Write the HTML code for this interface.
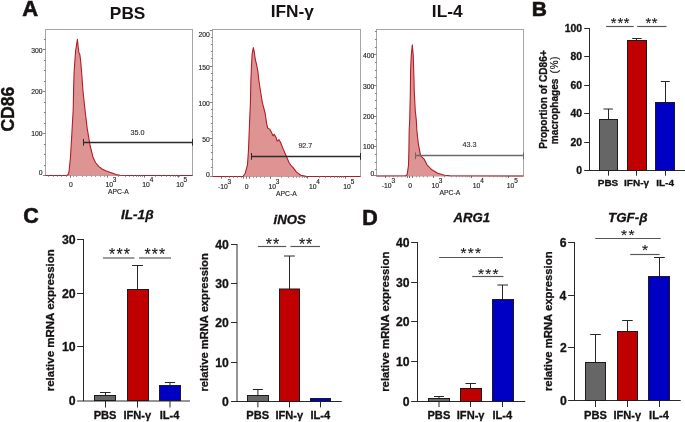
<!DOCTYPE html>
<html><head><meta charset="utf-8"><style>
html,body{margin:0;padding:0;background:#fff;overflow:hidden;}
svg{display:block;will-change:transform;filter:blur(0.4px);}
text{font-family:"Liberation Sans",sans-serif;}
</style></head><body>
<svg width="685" height="422" viewBox="0 0 685 422">
<rect width="685" height="422" fill="#fff"/>
<text x="22.25" y="15.60" font-size="22" font-weight="bold" font-style="normal" fill="#161212" stroke="#161212" stroke-width="0.6" >A</text>
<text transform="translate(13.90,131.60) rotate(-90)" x="0" y="0" font-size="17.6" font-weight="bold" font-style="normal" fill="#161212" stroke="#161212" stroke-width="0.35">CD86</text>
<rect x="45.5" y="29.5" width="147.0" height="146.0" fill="none" stroke="#a6a6a6" stroke-width="1"/>
<polygon points="45.5,175.5 66.5,175.5 67.9,174.8 69.0,172.0 70.5,157.0 71.5,140.0 72.5,122.0 73.2,110.0 73.6,90.0 74.1,72.0 75.6,51.0 77.4,39.3 78.1,46.2 78.9,52.7 79.8,54.3 80.6,60.4 81.6,72.0 82.9,90.0 85.0,110.0 87.2,128.4 90.1,145.5 92.9,156.9 95.5,162.5 98.6,166.4 102.0,169.0 106.2,171.1 111.9,173.0 116.0,174.6 120.0,175.3 126.0,175.5 192.5,175.5" fill="#df9494" stroke="none"/>
<polyline points="45.5,175.5 66.5,175.5 67.9,174.8 69.0,172.0 70.5,157.0 71.5,140.0 72.5,122.0 73.2,110.0 73.6,90.0 74.1,72.0 75.6,51.0 77.4,39.3 78.1,46.2 78.9,52.7 79.8,54.3 80.6,60.4 81.6,72.0 82.9,90.0 85.0,110.0 87.2,128.4 90.1,145.5 92.9,156.9 95.5,162.5 98.6,166.4 102.0,169.0 106.2,171.1 111.9,173.0 116.0,174.6 120.0,175.3 126.0,175.5 192.5,175.5" fill="none" stroke="#b11c28" stroke-width="1.1" stroke-linejoin="round"/>
<line x1="42.9" y1="175.5" x2="45.5" y2="175.5" stroke="#666" stroke-width="0.8"/>
<line x1="43.9" y1="165.5" x2="45.5" y2="165.5" stroke="#666" stroke-width="0.8"/>
<line x1="43.9" y1="154.5" x2="45.5" y2="154.5" stroke="#666" stroke-width="0.8"/>
<line x1="43.9" y1="144.5" x2="45.5" y2="144.5" stroke="#666" stroke-width="0.8"/>
<line x1="42.9" y1="133.5" x2="45.5" y2="133.5" stroke="#666" stroke-width="0.8"/>
<line x1="43.9" y1="123.5" x2="45.5" y2="123.5" stroke="#666" stroke-width="0.8"/>
<line x1="43.9" y1="112.5" x2="45.5" y2="112.5" stroke="#666" stroke-width="0.8"/>
<line x1="43.9" y1="102.5" x2="45.5" y2="102.5" stroke="#666" stroke-width="0.8"/>
<line x1="42.9" y1="91.5" x2="45.5" y2="91.5" stroke="#666" stroke-width="0.8"/>
<line x1="43.9" y1="81.5" x2="45.5" y2="81.5" stroke="#666" stroke-width="0.8"/>
<line x1="43.9" y1="70.5" x2="45.5" y2="70.5" stroke="#666" stroke-width="0.8"/>
<line x1="43.9" y1="60.5" x2="45.5" y2="60.5" stroke="#666" stroke-width="0.8"/>
<line x1="42.9" y1="49.5" x2="45.5" y2="49.5" stroke="#666" stroke-width="0.8"/>
<line x1="43.9" y1="39.5" x2="45.5" y2="39.5" stroke="#666" stroke-width="0.8"/>
<text x="31.32" y="53.03" font-size="6.8" font-weight="normal" font-style="normal" fill="#262626" stroke="#262626" stroke-width="0.15" >300</text>
<text x="31.32" y="94.23" font-size="6.8" font-weight="normal" font-style="normal" fill="#262626" stroke="#262626" stroke-width="0.15" >200</text>
<text x="31.32" y="136.43" font-size="6.8" font-weight="normal" font-style="normal" fill="#262626" stroke="#262626" stroke-width="0.15" >100</text>
<text x="38.86" y="174.83" font-size="6.8" font-weight="normal" font-style="normal" fill="#262626" stroke="#262626" stroke-width="0.15" >0</text>
<text x="69.03" y="186.80" font-size="6.8" font-weight="normal" font-style="normal" fill="#262626" stroke="#262626" stroke-width="0.15" >0</text>
<text x="105.39" y="186.80" font-size="6.8" font-weight="normal" font-style="normal" fill="#262626" stroke="#262626" stroke-width="0.15" >10</text>
<text x="112.74" y="181.80" font-size="6.46" font-weight="normal" font-style="normal" fill="#262626" stroke="#262626" stroke-width="0.15" >3</text>
<text x="142.29" y="186.80" font-size="6.8" font-weight="normal" font-style="normal" fill="#262626" stroke="#262626" stroke-width="0.15" >10</text>
<text x="149.77" y="181.80" font-size="6.46" font-weight="normal" font-style="normal" fill="#262626" stroke="#262626" stroke-width="0.15" >4</text>
<text x="176.19" y="186.80" font-size="6.8" font-weight="normal" font-style="normal" fill="#262626" stroke="#262626" stroke-width="0.15" >10</text>
<text x="183.54" y="181.80" font-size="6.46" font-weight="normal" font-style="normal" fill="#262626" stroke="#262626" stroke-width="0.15" >5</text>
<text x="108.00" y="193.60" font-size="6.8" font-weight="normal" font-style="normal" fill="#262626" stroke="#262626" stroke-width="0.15" >APC-A</text>
<line x1="83" y1="142.5" x2="192.5" y2="142.5" stroke="#2b2b2b" stroke-width="1.3"/>
<line x1="83.5" y1="138.9" x2="83.5" y2="145.70000000000002" stroke="#2b2b2b" stroke-width="1"/>
<line x1="192.5" y1="138.9" x2="192.5" y2="145.70000000000002" stroke="#2b2b2b" stroke-width="1"/>
<text x="130.61" y="134.60" font-size="7.2" font-weight="normal" font-style="normal" fill="#333" stroke="#333" stroke-width="0.15" >35.0</text>
<text x="109.86" y="19.40" font-size="17.3" font-weight="bold" font-style="normal" fill="#161212" >PBS</text>
<rect x="212.5" y="29.5" width="148.0" height="147.0" fill="none" stroke="#a6a6a6" stroke-width="1"/>
<polygon points="212.5,176.5 242.5,176.5 243.2,176.2 245.3,173.2 247.5,164.6 248.5,149.7 249.6,122.0 250.4,103.7 250.9,80.0 251.4,68.4 252.1,54.2 253.3,47.6 254.2,51.4 255.2,59.0 256.6,64.6 258.0,72.2 258.8,80.0 260.3,90.0 262.4,102.8 265.2,113.5 266.7,124.1 267.7,128.0 269.9,129.4 271.6,132.6 273.0,135.8 274.1,134.3 275.8,136.9 277.3,141.2 279.0,139.7 280.5,142.2 282.6,147.6 285.8,155.0 289.0,162.5 291.2,165.7 293.3,167.8 296.5,172.1 300.8,175.3 306.1,176.4 310.0,176.5 360.5,176.5" fill="#df9494" stroke="none"/>
<polyline points="212.5,176.5 242.5,176.5 243.2,176.2 245.3,173.2 247.5,164.6 248.5,149.7 249.6,122.0 250.4,103.7 250.9,80.0 251.4,68.4 252.1,54.2 253.3,47.6 254.2,51.4 255.2,59.0 256.6,64.6 258.0,72.2 258.8,80.0 260.3,90.0 262.4,102.8 265.2,113.5 266.7,124.1 267.7,128.0 269.9,129.4 271.6,132.6 273.0,135.8 274.1,134.3 275.8,136.9 277.3,141.2 279.0,139.7 280.5,142.2 282.6,147.6 285.8,155.0 289.0,162.5 291.2,165.7 293.3,167.8 296.5,172.1 300.8,175.3 306.1,176.4 310.0,176.5 360.5,176.5" fill="none" stroke="#b11c28" stroke-width="1.1" stroke-linejoin="round"/>
<line x1="210.9" y1="167.5" x2="212.5" y2="167.5" stroke="#666" stroke-width="0.8"/>
<line x1="210.9" y1="159.5" x2="212.5" y2="159.5" stroke="#666" stroke-width="0.8"/>
<line x1="210.9" y1="152.5" x2="212.5" y2="152.5" stroke="#666" stroke-width="0.8"/>
<line x1="210.9" y1="145.5" x2="212.5" y2="145.5" stroke="#666" stroke-width="0.8"/>
<line x1="209.9" y1="138.5" x2="212.5" y2="138.5" stroke="#666" stroke-width="0.8"/>
<line x1="210.9" y1="131.5" x2="212.5" y2="131.5" stroke="#666" stroke-width="0.8"/>
<line x1="210.9" y1="123.5" x2="212.5" y2="123.5" stroke="#666" stroke-width="0.8"/>
<line x1="210.9" y1="116.5" x2="212.5" y2="116.5" stroke="#666" stroke-width="0.8"/>
<line x1="210.9" y1="109.5" x2="212.5" y2="109.5" stroke="#666" stroke-width="0.8"/>
<line x1="209.9" y1="102.5" x2="212.5" y2="102.5" stroke="#666" stroke-width="0.8"/>
<line x1="210.9" y1="94.5" x2="212.5" y2="94.5" stroke="#666" stroke-width="0.8"/>
<line x1="210.9" y1="87.5" x2="212.5" y2="87.5" stroke="#666" stroke-width="0.8"/>
<line x1="210.9" y1="80.5" x2="212.5" y2="80.5" stroke="#666" stroke-width="0.8"/>
<line x1="210.9" y1="73.5" x2="212.5" y2="73.5" stroke="#666" stroke-width="0.8"/>
<line x1="209.9" y1="66.5" x2="212.5" y2="66.5" stroke="#666" stroke-width="0.8"/>
<line x1="210.9" y1="58.5" x2="212.5" y2="58.5" stroke="#666" stroke-width="0.8"/>
<line x1="210.9" y1="51.5" x2="212.5" y2="51.5" stroke="#666" stroke-width="0.8"/>
<line x1="210.9" y1="44.5" x2="212.5" y2="44.5" stroke="#666" stroke-width="0.8"/>
<line x1="210.9" y1="37.5" x2="212.5" y2="37.5" stroke="#666" stroke-width="0.8"/>
<line x1="209.9" y1="30.5" x2="212.5" y2="30.5" stroke="#666" stroke-width="0.8"/>
<line x1="209.9" y1="176.5" x2="212.5" y2="176.5" stroke="#666" stroke-width="0.8"/>
<text x="198.42" y="36.63" font-size="6.8" font-weight="normal" font-style="normal" fill="#262626" stroke="#262626" stroke-width="0.15" >200</text>
<text x="198.42" y="70.23" font-size="6.8" font-weight="normal" font-style="normal" fill="#262626" stroke="#262626" stroke-width="0.15" >150</text>
<text x="198.42" y="106.23" font-size="6.8" font-weight="normal" font-style="normal" fill="#262626" stroke="#262626" stroke-width="0.15" >100</text>
<text x="202.19" y="142.33" font-size="6.8" font-weight="normal" font-style="normal" fill="#262626" stroke="#262626" stroke-width="0.15" >50</text>
<text x="205.96" y="176.83" font-size="6.8" font-weight="normal" font-style="normal" fill="#262626" stroke="#262626" stroke-width="0.15" >0</text>
<text x="217.89" y="188.90" font-size="6.8" font-weight="normal" font-style="normal" fill="#262626" stroke="#262626" stroke-width="0.15" >-10</text>
<text x="227.52" y="183.90" font-size="6.46" font-weight="normal" font-style="normal" fill="#262626" stroke="#262626" stroke-width="0.15" >3</text>
<text x="244.63" y="188.90" font-size="6.8" font-weight="normal" font-style="normal" fill="#262626" stroke="#262626" stroke-width="0.15" >0</text>
<text x="268.49" y="188.90" font-size="6.8" font-weight="normal" font-style="normal" fill="#262626" stroke="#262626" stroke-width="0.15" >10</text>
<text x="275.84" y="183.90" font-size="6.46" font-weight="normal" font-style="normal" fill="#262626" stroke="#262626" stroke-width="0.15" >3</text>
<text x="308.89" y="188.90" font-size="6.8" font-weight="normal" font-style="normal" fill="#262626" stroke="#262626" stroke-width="0.15" >10</text>
<text x="316.37" y="183.90" font-size="6.46" font-weight="normal" font-style="normal" fill="#262626" stroke="#262626" stroke-width="0.15" >4</text>
<text x="343.29" y="188.90" font-size="6.8" font-weight="normal" font-style="normal" fill="#262626" stroke="#262626" stroke-width="0.15" >10</text>
<text x="350.64" y="183.90" font-size="6.46" font-weight="normal" font-style="normal" fill="#262626" stroke="#262626" stroke-width="0.15" >5</text>
<text x="276.00" y="195.90" font-size="6.8" font-weight="normal" font-style="normal" fill="#262626" stroke="#262626" stroke-width="0.15" >APC-A</text>
<line x1="251.5" y1="156.5" x2="360.5" y2="156.5" stroke="#2b2b2b" stroke-width="1.3"/>
<line x1="251.5" y1="153.0" x2="251.5" y2="159.8" stroke="#2b2b2b" stroke-width="1"/>
<line x1="360.5" y1="153.0" x2="360.5" y2="159.8" stroke="#2b2b2b" stroke-width="1"/>
<text x="298.38" y="147.80" font-size="7.2" font-weight="normal" font-style="normal" fill="#333" stroke="#333" stroke-width="0.15" >92.7</text>
<text x="270.66" y="16.90" font-size="17.3" font-weight="bold" font-style="normal" fill="#161212" >IFN-γ</text>
<rect x="376.5" y="29.5" width="147.0" height="146.5" fill="none" stroke="#a6a6a6" stroke-width="1"/>
<polygon points="376.5,176.0 405.5,175.8 407.1,174.7 408.5,165.5 408.9,150.0 409.2,130.0 409.7,120.0 410.4,90.0 410.6,70.0 411.3,55.0 412.3,44.9 413.2,55.0 414.0,80.0 414.2,90.0 415.2,110.0 416.3,120.0 416.8,130.0 418.4,144.2 420.6,155.6 424.1,159.1 427.0,164.8 431.9,169.8 437.6,173.3 444.7,175.3 450.0,175.8 523.5,176.0" fill="#df9494" stroke="none"/>
<polyline points="376.5,176.0 405.5,175.8 407.1,174.7 408.5,165.5 408.9,150.0 409.2,130.0 409.7,120.0 410.4,90.0 410.6,70.0 411.3,55.0 412.3,44.9 413.2,55.0 414.0,80.0 414.2,90.0 415.2,110.0 416.3,120.0 416.8,130.0 418.4,144.2 420.6,155.6 424.1,159.1 427.0,164.8 431.9,169.8 437.6,173.3 444.7,175.3 450.0,175.8 523.5,176.0" fill="none" stroke="#b11c28" stroke-width="1.1" stroke-linejoin="round"/>
<line x1="374.9" y1="169.5" x2="376.5" y2="169.5" stroke="#666" stroke-width="0.8"/>
<line x1="374.9" y1="162.5" x2="376.5" y2="162.5" stroke="#666" stroke-width="0.8"/>
<line x1="374.9" y1="154.5" x2="376.5" y2="154.5" stroke="#666" stroke-width="0.8"/>
<line x1="373.9" y1="146.5" x2="376.5" y2="146.5" stroke="#666" stroke-width="0.8"/>
<line x1="374.9" y1="139.5" x2="376.5" y2="139.5" stroke="#666" stroke-width="0.8"/>
<line x1="374.9" y1="131.5" x2="376.5" y2="131.5" stroke="#666" stroke-width="0.8"/>
<line x1="374.9" y1="123.5" x2="376.5" y2="123.5" stroke="#666" stroke-width="0.8"/>
<line x1="373.9" y1="116.5" x2="376.5" y2="116.5" stroke="#666" stroke-width="0.8"/>
<line x1="374.9" y1="108.5" x2="376.5" y2="108.5" stroke="#666" stroke-width="0.8"/>
<line x1="374.9" y1="100.5" x2="376.5" y2="100.5" stroke="#666" stroke-width="0.8"/>
<line x1="374.9" y1="93.5" x2="376.5" y2="93.5" stroke="#666" stroke-width="0.8"/>
<line x1="373.9" y1="85.5" x2="376.5" y2="85.5" stroke="#666" stroke-width="0.8"/>
<line x1="374.9" y1="77.5" x2="376.5" y2="77.5" stroke="#666" stroke-width="0.8"/>
<line x1="374.9" y1="70.5" x2="376.5" y2="70.5" stroke="#666" stroke-width="0.8"/>
<line x1="374.9" y1="62.5" x2="376.5" y2="62.5" stroke="#666" stroke-width="0.8"/>
<line x1="373.9" y1="54.5" x2="376.5" y2="54.5" stroke="#666" stroke-width="0.8"/>
<line x1="374.9" y1="47.5" x2="376.5" y2="47.5" stroke="#666" stroke-width="0.8"/>
<line x1="374.9" y1="39.5" x2="376.5" y2="39.5" stroke="#666" stroke-width="0.8"/>
<line x1="374.9" y1="31.5" x2="376.5" y2="31.5" stroke="#666" stroke-width="0.8"/>
<line x1="373.9" y1="175.5" x2="376.5" y2="175.5" stroke="#666" stroke-width="0.8"/>
<text x="362.92" y="58.43" font-size="6.8" font-weight="normal" font-style="normal" fill="#262626" stroke="#262626" stroke-width="0.15" >400</text>
<text x="362.92" y="88.83" font-size="6.8" font-weight="normal" font-style="normal" fill="#262626" stroke="#262626" stroke-width="0.15" >300</text>
<text x="362.92" y="119.13" font-size="6.8" font-weight="normal" font-style="normal" fill="#262626" stroke="#262626" stroke-width="0.15" >200</text>
<text x="362.92" y="148.73" font-size="6.8" font-weight="normal" font-style="normal" fill="#262626" stroke="#262626" stroke-width="0.15" >100</text>
<text x="370.46" y="175.73" font-size="6.8" font-weight="normal" font-style="normal" fill="#262626" stroke="#262626" stroke-width="0.15" >0</text>
<text x="381.79" y="187.90" font-size="6.8" font-weight="normal" font-style="normal" fill="#262626" stroke="#262626" stroke-width="0.15" >-10</text>
<text x="391.42" y="182.90" font-size="6.46" font-weight="normal" font-style="normal" fill="#262626" stroke="#262626" stroke-width="0.15" >3</text>
<text x="408.23" y="187.90" font-size="6.8" font-weight="normal" font-style="normal" fill="#262626" stroke="#262626" stroke-width="0.15" >0</text>
<text x="431.49" y="187.90" font-size="6.8" font-weight="normal" font-style="normal" fill="#262626" stroke="#262626" stroke-width="0.15" >10</text>
<text x="438.84" y="182.90" font-size="6.46" font-weight="normal" font-style="normal" fill="#262626" stroke="#262626" stroke-width="0.15" >3</text>
<text x="472.69" y="187.90" font-size="6.8" font-weight="normal" font-style="normal" fill="#262626" stroke="#262626" stroke-width="0.15" >10</text>
<text x="480.17" y="182.90" font-size="6.46" font-weight="normal" font-style="normal" fill="#262626" stroke="#262626" stroke-width="0.15" >4</text>
<text x="506.79" y="187.90" font-size="6.8" font-weight="normal" font-style="normal" fill="#262626" stroke="#262626" stroke-width="0.15" >10</text>
<text x="514.14" y="182.90" font-size="6.46" font-weight="normal" font-style="normal" fill="#262626" stroke="#262626" stroke-width="0.15" >5</text>
<text x="439.50" y="195.40" font-size="6.8" font-weight="normal" font-style="normal" fill="#262626" stroke="#262626" stroke-width="0.15" >APC-A</text>
<line x1="415.6" y1="155.5" x2="523.5" y2="155.5" stroke="#6a6a6a" stroke-width="1.5"/>
<line x1="415.5" y1="152.4" x2="415.5" y2="159.20000000000002" stroke="#6a6a6a" stroke-width="1"/>
<line x1="523.5" y1="152.4" x2="523.5" y2="159.20000000000002" stroke="#6a6a6a" stroke-width="1"/>
<text x="462.56" y="147.00" font-size="7.2" font-weight="normal" font-style="normal" fill="#333" stroke="#333" stroke-width="0.15" >43.3</text>
<text x="431.83" y="16.80" font-size="17.3" font-weight="bold" font-style="normal" fill="#161212" >IL-4</text>
<line x1="48.5" y1="175.5" x2="48.5" y2="177.0" stroke="#888" stroke-width="0.8"/>
<line x1="53.5" y1="175.5" x2="53.5" y2="177.0" stroke="#888" stroke-width="0.8"/>
<line x1="57.5" y1="175.5" x2="57.5" y2="177.0" stroke="#888" stroke-width="0.8"/>
<line x1="61.5" y1="175.5" x2="61.5" y2="177.0" stroke="#888" stroke-width="0.8"/>
<line x1="66.5" y1="175.5" x2="66.5" y2="177.0" stroke="#888" stroke-width="0.8"/>
<line x1="70.5" y1="175.5" x2="70.5" y2="177.7" stroke="#555" stroke-width="0.8"/>
<line x1="73.5" y1="175.5" x2="73.5" y2="177.0" stroke="#888" stroke-width="0.8"/>
<line x1="76.5" y1="175.5" x2="76.5" y2="177.0" stroke="#888" stroke-width="0.8"/>
<line x1="82.5" y1="175.5" x2="82.5" y2="177.0" stroke="#888" stroke-width="0.8"/>
<line x1="86.5" y1="175.5" x2="86.5" y2="177.0" stroke="#888" stroke-width="0.8"/>
<line x1="91.5" y1="175.5" x2="91.5" y2="177.0" stroke="#888" stroke-width="0.8"/>
<line x1="95.5" y1="175.5" x2="95.5" y2="177.0" stroke="#888" stroke-width="0.8"/>
<line x1="100.5" y1="175.5" x2="100.5" y2="177.0" stroke="#888" stroke-width="0.8"/>
<line x1="104.5" y1="175.5" x2="104.5" y2="177.0" stroke="#888" stroke-width="0.8"/>
<line x1="118.5" y1="175.5" x2="118.5" y2="177.0" stroke="#888" stroke-width="0.8"/>
<line x1="125.5" y1="175.5" x2="125.5" y2="177.0" stroke="#888" stroke-width="0.8"/>
<line x1="129.5" y1="175.5" x2="129.5" y2="177.0" stroke="#888" stroke-width="0.8"/>
<line x1="133.5" y1="175.5" x2="133.5" y2="177.0" stroke="#888" stroke-width="0.8"/>
<line x1="136.5" y1="175.5" x2="136.5" y2="177.0" stroke="#888" stroke-width="0.8"/>
<line x1="138.5" y1="175.5" x2="138.5" y2="177.0" stroke="#888" stroke-width="0.8"/>
<line x1="140.5" y1="175.5" x2="140.5" y2="177.0" stroke="#888" stroke-width="0.8"/>
<line x1="142.5" y1="175.5" x2="142.5" y2="177.0" stroke="#888" stroke-width="0.8"/>
<line x1="107.5" y1="175.5" x2="107.5" y2="177.7" stroke="#555" stroke-width="0.8"/>
<line x1="155.5" y1="175.5" x2="155.5" y2="177.0" stroke="#888" stroke-width="0.8"/>
<line x1="161.5" y1="175.5" x2="161.5" y2="177.0" stroke="#888" stroke-width="0.8"/>
<line x1="166.5" y1="175.5" x2="166.5" y2="177.0" stroke="#888" stroke-width="0.8"/>
<line x1="170.5" y1="175.5" x2="170.5" y2="177.0" stroke="#888" stroke-width="0.8"/>
<line x1="173.5" y1="175.5" x2="173.5" y2="177.0" stroke="#888" stroke-width="0.8"/>
<line x1="175.5" y1="175.5" x2="175.5" y2="177.0" stroke="#888" stroke-width="0.8"/>
<line x1="177.5" y1="175.5" x2="177.5" y2="177.0" stroke="#888" stroke-width="0.8"/>
<line x1="179.5" y1="175.5" x2="179.5" y2="177.0" stroke="#888" stroke-width="0.8"/>
<line x1="144.5" y1="175.5" x2="144.5" y2="177.7" stroke="#555" stroke-width="0.8"/>
<line x1="178.5" y1="175.5" x2="178.5" y2="177.7" stroke="#555" stroke-width="0.8"/>
<line x1="221.5" y1="176.5" x2="221.5" y2="178.7" stroke="#555" stroke-width="0.8"/>
<line x1="225.5" y1="176.5" x2="225.5" y2="178.0" stroke="#888" stroke-width="0.8"/>
<line x1="229.5" y1="176.5" x2="229.5" y2="178.0" stroke="#888" stroke-width="0.8"/>
<line x1="233.5" y1="176.5" x2="233.5" y2="178.0" stroke="#888" stroke-width="0.8"/>
<line x1="237.5" y1="176.5" x2="237.5" y2="178.0" stroke="#888" stroke-width="0.8"/>
<line x1="241.5" y1="176.5" x2="241.5" y2="178.0" stroke="#888" stroke-width="0.8"/>
<line x1="243.5" y1="176.5" x2="243.5" y2="178.7" stroke="#555" stroke-width="0.8"/>
<line x1="246.5" y1="176.5" x2="246.5" y2="178.7" stroke="#555" stroke-width="0.8"/>
<line x1="249.5" y1="176.5" x2="249.5" y2="178.7" stroke="#555" stroke-width="0.8"/>
<line x1="253.5" y1="176.5" x2="253.5" y2="178.0" stroke="#888" stroke-width="0.8"/>
<line x1="256.5" y1="176.5" x2="256.5" y2="178.0" stroke="#888" stroke-width="0.8"/>
<line x1="260.5" y1="176.5" x2="260.5" y2="178.0" stroke="#888" stroke-width="0.8"/>
<line x1="264.5" y1="176.5" x2="264.5" y2="178.0" stroke="#888" stroke-width="0.8"/>
<line x1="281.5" y1="176.5" x2="281.5" y2="178.0" stroke="#888" stroke-width="0.8"/>
<line x1="288.5" y1="176.5" x2="288.5" y2="178.0" stroke="#888" stroke-width="0.8"/>
<line x1="293.5" y1="176.5" x2="293.5" y2="178.0" stroke="#888" stroke-width="0.8"/>
<line x1="296.5" y1="176.5" x2="296.5" y2="178.0" stroke="#888" stroke-width="0.8"/>
<line x1="299.5" y1="176.5" x2="299.5" y2="178.0" stroke="#888" stroke-width="0.8"/>
<line x1="302.5" y1="176.5" x2="302.5" y2="178.0" stroke="#888" stroke-width="0.8"/>
<line x1="304.5" y1="176.5" x2="304.5" y2="178.0" stroke="#888" stroke-width="0.8"/>
<line x1="306.5" y1="176.5" x2="306.5" y2="178.0" stroke="#888" stroke-width="0.8"/>
<line x1="270.5" y1="176.5" x2="270.5" y2="178.7" stroke="#555" stroke-width="0.8"/>
<line x1="319.5" y1="176.5" x2="319.5" y2="178.0" stroke="#888" stroke-width="0.8"/>
<line x1="325.5" y1="176.5" x2="325.5" y2="178.0" stroke="#888" stroke-width="0.8"/>
<line x1="330.5" y1="176.5" x2="330.5" y2="178.0" stroke="#888" stroke-width="0.8"/>
<line x1="334.5" y1="176.5" x2="334.5" y2="178.0" stroke="#888" stroke-width="0.8"/>
<line x1="337.5" y1="176.5" x2="337.5" y2="178.0" stroke="#888" stroke-width="0.8"/>
<line x1="339.5" y1="176.5" x2="339.5" y2="178.0" stroke="#888" stroke-width="0.8"/>
<line x1="341.5" y1="176.5" x2="341.5" y2="178.0" stroke="#888" stroke-width="0.8"/>
<line x1="343.5" y1="176.5" x2="343.5" y2="178.0" stroke="#888" stroke-width="0.8"/>
<line x1="307.5" y1="176.5" x2="307.5" y2="178.7" stroke="#555" stroke-width="0.8"/>
<line x1="345.5" y1="176.5" x2="345.5" y2="178.7" stroke="#555" stroke-width="0.8"/>
<line x1="385.5" y1="175.8" x2="385.5" y2="178.0" stroke="#555" stroke-width="0.8"/>
<line x1="389.5" y1="175.8" x2="389.5" y2="177.3" stroke="#888" stroke-width="0.8"/>
<line x1="393.5" y1="175.8" x2="393.5" y2="177.3" stroke="#888" stroke-width="0.8"/>
<line x1="397.5" y1="175.8" x2="397.5" y2="177.3" stroke="#888" stroke-width="0.8"/>
<line x1="401.5" y1="175.8" x2="401.5" y2="177.3" stroke="#888" stroke-width="0.8"/>
<line x1="405.5" y1="175.8" x2="405.5" y2="177.3" stroke="#888" stroke-width="0.8"/>
<line x1="407.5" y1="175.8" x2="407.5" y2="178.0" stroke="#555" stroke-width="0.8"/>
<line x1="409.5" y1="175.8" x2="409.5" y2="178.0" stroke="#555" stroke-width="0.8"/>
<line x1="412.5" y1="175.8" x2="412.5" y2="178.0" stroke="#555" stroke-width="0.8"/>
<line x1="416.5" y1="175.8" x2="416.5" y2="177.3" stroke="#888" stroke-width="0.8"/>
<line x1="419.5" y1="175.8" x2="419.5" y2="177.3" stroke="#888" stroke-width="0.8"/>
<line x1="423.5" y1="175.8" x2="423.5" y2="177.3" stroke="#888" stroke-width="0.8"/>
<line x1="427.5" y1="175.8" x2="427.5" y2="177.3" stroke="#888" stroke-width="0.8"/>
<line x1="444.5" y1="175.8" x2="444.5" y2="177.3" stroke="#888" stroke-width="0.8"/>
<line x1="451.5" y1="175.8" x2="451.5" y2="177.3" stroke="#888" stroke-width="0.8"/>
<line x1="456.5" y1="175.8" x2="456.5" y2="177.3" stroke="#888" stroke-width="0.8"/>
<line x1="459.5" y1="175.8" x2="459.5" y2="177.3" stroke="#888" stroke-width="0.8"/>
<line x1="462.5" y1="175.8" x2="462.5" y2="177.3" stroke="#888" stroke-width="0.8"/>
<line x1="465.5" y1="175.8" x2="465.5" y2="177.3" stroke="#888" stroke-width="0.8"/>
<line x1="467.5" y1="175.8" x2="467.5" y2="177.3" stroke="#888" stroke-width="0.8"/>
<line x1="469.5" y1="175.8" x2="469.5" y2="177.3" stroke="#888" stroke-width="0.8"/>
<line x1="433.5" y1="175.8" x2="433.5" y2="178.0" stroke="#555" stroke-width="0.8"/>
<line x1="482.5" y1="175.8" x2="482.5" y2="177.3" stroke="#888" stroke-width="0.8"/>
<line x1="489.5" y1="175.8" x2="489.5" y2="177.3" stroke="#888" stroke-width="0.8"/>
<line x1="493.5" y1="175.8" x2="493.5" y2="177.3" stroke="#888" stroke-width="0.8"/>
<line x1="497.5" y1="175.8" x2="497.5" y2="177.3" stroke="#888" stroke-width="0.8"/>
<line x1="500.5" y1="175.8" x2="500.5" y2="177.3" stroke="#888" stroke-width="0.8"/>
<line x1="502.5" y1="175.8" x2="502.5" y2="177.3" stroke="#888" stroke-width="0.8"/>
<line x1="505.5" y1="175.8" x2="505.5" y2="177.3" stroke="#888" stroke-width="0.8"/>
<line x1="506.5" y1="175.8" x2="506.5" y2="177.3" stroke="#888" stroke-width="0.8"/>
<line x1="471.5" y1="175.8" x2="471.5" y2="178.0" stroke="#555" stroke-width="0.8"/>
<line x1="508.5" y1="175.8" x2="508.5" y2="178.0" stroke="#555" stroke-width="0.8"/>
<text x="531.84" y="15.60" font-size="21" font-weight="bold" font-style="normal" fill="#161212" stroke="#161212" stroke-width="0.6" >B</text>
<line x1="608.5" y1="119.5" x2="608.5" y2="109.0" stroke="#262626" stroke-width="1"/>
<line x1="603.5" y1="109.0" x2="612.9" y2="109.0" stroke="#262626" stroke-width="1"/>
<line x1="636.5" y1="40.5" x2="636.5" y2="38.5" stroke="#262626" stroke-width="1"/>
<line x1="632.2" y1="38.5" x2="641.6" y2="38.5" stroke="#262626" stroke-width="1"/>
<line x1="665.5" y1="102.5" x2="665.5" y2="81.5" stroke="#262626" stroke-width="1"/>
<line x1="660.9" y1="81.5" x2="669.8" y2="81.5" stroke="#262626" stroke-width="1"/>
<line x1="584.2" y1="170.5" x2="685" y2="170.5" stroke="#2a2a2a" stroke-width="1"/>
<rect x="599.5" y="119.5" width="18.0" height="51.0" fill="#666666" stroke="#1c1c1c" stroke-width="1"/>
<line x1="608.5" y1="170.5" x2="608.5" y2="175.7" stroke="#2a2a2a" stroke-width="1"/>
<text transform="translate(597.71,186.40) scale(1.065,1)" x="0" y="0" font-size="9.4" font-weight="bold" font-style="normal" fill="#161212" stroke="#161212" stroke-width="0.3" >PBS</text>
<rect x="627.5" y="40.5" width="19.0" height="130.0" fill="#c00000" stroke="#1c1c1c" stroke-width="1"/>
<line x1="636.5" y1="170.5" x2="636.5" y2="175.7" stroke="#2a2a2a" stroke-width="1"/>
<text transform="translate(624.04,186.40) scale(1.065,1)" x="0" y="0" font-size="9.4" font-weight="bold" font-style="normal" fill="#161212" stroke="#161212" stroke-width="0.3" >IFN-γ</text>
<rect x="655.5" y="102.5" width="19.0" height="68.0" fill="#0000c4" stroke="#1c1c1c" stroke-width="1"/>
<line x1="665.5" y1="170.5" x2="665.5" y2="175.7" stroke="#2a2a2a" stroke-width="1"/>
<text transform="translate(656.21,186.40) scale(1.065,1)" x="0" y="0" font-size="9.4" font-weight="bold" font-style="normal" fill="#161212" stroke="#161212" stroke-width="0.3" >IL-4</text>
<line x1="589.5" y1="28.0" x2="589.5" y2="171.0" stroke="#2a2a2a" stroke-width="1"/>
<text transform="translate(576.34,174.12) scale(1.030,1)" x="0" y="0" font-size="10.1" font-weight="bold" font-style="normal" fill="#161212" stroke="#161212" stroke-width="0.3" >0</text>
<line x1="584.2" y1="142.5" x2="589.5" y2="142.5" stroke="#2a2a2a" stroke-width="1"/>
<text transform="translate(570.57,146.12) scale(1.030,1)" x="0" y="0" font-size="10.1" font-weight="bold" font-style="normal" fill="#161212" stroke="#161212" stroke-width="0.3" >20</text>
<line x1="584.2" y1="113.5" x2="589.5" y2="113.5" stroke="#2a2a2a" stroke-width="1"/>
<text transform="translate(570.57,117.12) scale(1.030,1)" x="0" y="0" font-size="10.1" font-weight="bold" font-style="normal" fill="#161212" stroke="#161212" stroke-width="0.3" >40</text>
<line x1="584.2" y1="85.5" x2="589.5" y2="85.5" stroke="#2a2a2a" stroke-width="1"/>
<text transform="translate(570.57,89.12) scale(1.030,1)" x="0" y="0" font-size="10.1" font-weight="bold" font-style="normal" fill="#161212" stroke="#161212" stroke-width="0.3" >60</text>
<line x1="584.2" y1="56.5" x2="589.5" y2="56.5" stroke="#2a2a2a" stroke-width="1"/>
<text transform="translate(570.57,60.12) scale(1.030,1)" x="0" y="0" font-size="10.1" font-weight="bold" font-style="normal" fill="#161212" stroke="#161212" stroke-width="0.3" >80</text>
<line x1="584.2" y1="28.5" x2="589.5" y2="28.5" stroke="#2a2a2a" stroke-width="1"/>
<text transform="translate(564.80,32.12) scale(1.030,1)" x="0" y="0" font-size="10.1" font-weight="bold" font-style="normal" fill="#161212" stroke="#161212" stroke-width="0.3" >100</text>
<line x1="606.1" y1="26.5" x2="633.7" y2="26.5" stroke="#555555" stroke-width="1.15"/>
<line x1="637.2" y1="26.5" x2="666.5" y2="26.5" stroke="#555555" stroke-width="1.15"/>
<text x="610.83" y="28.39" font-size="14.74" fill="#141414" stroke="#141414" stroke-width="0.12">*</text>
<text x="617.43" y="28.39" font-size="14.74" fill="#141414" stroke="#141414" stroke-width="0.12">*</text>
<text x="623.73" y="28.39" font-size="14.74" fill="#141414" stroke="#141414" stroke-width="0.12">*</text>
<text x="645.53" y="28.29" font-size="14.74" fill="#141414" stroke="#141414" stroke-width="0.12">*</text>
<text x="651.73" y="28.29" font-size="14.74" fill="#141414" stroke="#141414" stroke-width="0.12">*</text>
<text transform="translate(546.80,148.76) rotate(-90)" x="0" y="0" font-size="10.1" font-weight="bold" font-style="normal" fill="#161212" stroke="#161212" stroke-width="0.3">Proportion of CD86+</text>
<text transform="translate(557.60,144.16) rotate(-90)" x="0" y="0" font-size="10.1" font-weight="bold" font-style="normal" fill="#161212" stroke="#161212" stroke-width="0.3">macrophages</text>
<text transform="translate(557.90,73.52) rotate(-90)" x="0" y="0" font-size="10.4" font-weight="normal" font-style="normal" fill="#161212" stroke="#161212" stroke-width="0.15">(</text>
<text transform="translate(557.60,69.25) rotate(-90)" x="0" y="0" font-size="10.0" font-weight="normal" font-style="normal" fill="#161212" stroke="#161212" stroke-width="0.15">%</text>
<text transform="translate(557.90,59.95) rotate(-90)" x="0" y="0" font-size="10.4" font-weight="normal" font-style="normal" fill="#161212" stroke="#161212" stroke-width="0.15">)</text>
<text x="23.24" y="222.60" font-size="21.5" font-weight="bold" font-style="normal" fill="#161212" stroke="#161212" stroke-width="0.6" >C</text>
<text x="121.03" y="218.50" font-size="13.6" font-weight="bold" font-style="italic" fill="#161212" stroke="#161212" stroke-width="0.3" >IL-1β</text>
<line x1="105.5" y1="395.5" x2="105.5" y2="392.5" stroke="#262626" stroke-width="1"/>
<line x1="100.0" y1="392.5" x2="110.6" y2="392.5" stroke="#262626" stroke-width="1"/>
<line x1="137.5" y1="289.5" x2="137.5" y2="265.5" stroke="#262626" stroke-width="1"/>
<line x1="132.1" y1="265.5" x2="142.9" y2="265.5" stroke="#262626" stroke-width="1"/>
<line x1="170.0" y1="385.5" x2="170.0" y2="382.5" stroke="#262626" stroke-width="1"/>
<line x1="164.9" y1="382.5" x2="175.1" y2="382.5" stroke="#262626" stroke-width="1"/>
<line x1="77.1" y1="401.0" x2="190" y2="401.0" stroke="#2a2a2a" stroke-width="1"/>
<rect x="94.5" y="395.5" width="21.0" height="5.0" fill="#666666" stroke="#1c1c1c" stroke-width="1"/>
<line x1="105.5" y1="400.5" x2="105.5" y2="407.5" stroke="#2a2a2a" stroke-width="1"/>
<text x="93.68" y="418.60" font-size="11.1" font-weight="bold" font-style="normal" fill="#161212" stroke="#161212" stroke-width="0.3" >PBS</text>
<rect x="127.5" y="289.5" width="21.0" height="111.0" fill="#c00000" stroke="#1c1c1c" stroke-width="1"/>
<line x1="137.5" y1="400.5" x2="137.5" y2="407.5" stroke="#2a2a2a" stroke-width="1"/>
<text x="123.39" y="418.60" font-size="11.1" font-weight="bold" font-style="normal" fill="#161212" stroke="#161212" stroke-width="0.3" >IFN-γ</text>
<rect x="159.5" y="385.5" width="21.0" height="15.0" fill="#0000c4" stroke="#1c1c1c" stroke-width="1"/>
<line x1="170.0" y1="400.5" x2="170.0" y2="407.5" stroke="#2a2a2a" stroke-width="1"/>
<text x="159.77" y="418.60" font-size="11.1" font-weight="bold" font-style="normal" fill="#161212" stroke="#161212" stroke-width="0.3" >IL-4</text>
<line x1="83.5" y1="239.0" x2="83.5" y2="401.0" stroke="#2a2a2a" stroke-width="1"/>
<text x="68.87" y="405.40" font-size="12.3" font-weight="bold" font-style="normal" fill="#161212" stroke="#161212" stroke-width="0.3" >0</text>
<line x1="77.1" y1="346.5" x2="83.5" y2="346.5" stroke="#2a2a2a" stroke-width="1"/>
<text x="62.04" y="350.90" font-size="12.3" font-weight="bold" font-style="normal" fill="#161212" stroke="#161212" stroke-width="0.3" >10</text>
<line x1="77.1" y1="293.5" x2="83.5" y2="293.5" stroke="#2a2a2a" stroke-width="1"/>
<text x="62.04" y="297.90" font-size="12.3" font-weight="bold" font-style="normal" fill="#161212" stroke="#161212" stroke-width="0.3" >20</text>
<line x1="77.1" y1="239.5" x2="83.5" y2="239.5" stroke="#2a2a2a" stroke-width="1"/>
<text x="62.04" y="243.90" font-size="12.3" font-weight="bold" font-style="normal" fill="#161212" stroke="#161212" stroke-width="0.3" >30</text>
<line x1="103" y1="258.0" x2="134.5" y2="258.0" stroke="#555555" stroke-width="1.15"/>
<line x1="139" y1="258.0" x2="171" y2="258.0" stroke="#555555" stroke-width="1.15"/>
<text x="108.93" y="259.50" font-size="15.73" fill="#141414" stroke="#141414" stroke-width="0.12">*</text>
<text x="116.43" y="259.50" font-size="15.73" fill="#141414" stroke="#141414" stroke-width="0.12">*</text>
<text x="123.73" y="259.50" font-size="15.73" fill="#141414" stroke="#141414" stroke-width="0.12">*</text>
<text x="144.43" y="259.50" font-size="15.73" fill="#141414" stroke="#141414" stroke-width="0.12">*</text>
<text x="151.63" y="259.50" font-size="15.73" fill="#141414" stroke="#141414" stroke-width="0.12">*</text>
<text x="159.03" y="259.50" font-size="15.73" fill="#141414" stroke="#141414" stroke-width="0.12">*</text>
<text transform="translate(54.20,391.25) rotate(-90)" x="0" y="0" font-size="11.5" font-weight="bold" font-style="normal" fill="#161212" stroke="#161212" stroke-width="0.3">relative mRNA expression</text>
<text x="273.60" y="224.40" font-size="13.2" font-weight="bold" font-style="italic" fill="#161212" stroke="#161212" stroke-width="0.3" >iNOS</text>
<line x1="257.9" y1="395.5" x2="257.9" y2="389.5" stroke="#262626" stroke-width="1"/>
<line x1="252.9" y1="389.5" x2="262.9" y2="389.5" stroke="#262626" stroke-width="1"/>
<line x1="289.5" y1="289.0" x2="289.5" y2="256.0" stroke="#262626" stroke-width="1"/>
<line x1="284.1" y1="256.0" x2="294.8" y2="256.0" stroke="#262626" stroke-width="1"/>
<line x1="320.5" y1="398.5" x2="320.5" y2="398.5" stroke="#262626" stroke-width="1"/>
<line x1="315.3" y1="398.5" x2="325.6" y2="398.5" stroke="#262626" stroke-width="1"/>
<line x1="231.0" y1="401.5" x2="341.8" y2="401.5" stroke="#2a2a2a" stroke-width="1"/>
<rect x="247.5" y="395.5" width="21.0" height="6.0" fill="#666666" stroke="#1c1c1c" stroke-width="1"/>
<line x1="257.9" y1="401.5" x2="257.9" y2="407.4" stroke="#2a2a2a" stroke-width="1"/>
<text x="246.28" y="419.00" font-size="11.1" font-weight="bold" font-style="normal" fill="#161212" stroke="#161212" stroke-width="0.3" >PBS</text>
<rect x="279.5" y="289.0" width="20.0" height="112.5" fill="#c00000" stroke="#1c1c1c" stroke-width="1"/>
<line x1="289.5" y1="401.5" x2="289.5" y2="407.4" stroke="#2a2a2a" stroke-width="1"/>
<text x="275.39" y="419.00" font-size="11.1" font-weight="bold" font-style="normal" fill="#161212" stroke="#161212" stroke-width="0.3" >IFN-γ</text>
<rect x="310.5" y="398.5" width="20.0" height="3.0" fill="#0000c4" stroke="#1c1c1c" stroke-width="1"/>
<line x1="320.5" y1="401.5" x2="320.5" y2="407.4" stroke="#2a2a2a" stroke-width="1"/>
<text x="310.52" y="419.00" font-size="11.1" font-weight="bold" font-style="normal" fill="#161212" stroke="#161212" stroke-width="0.3" >IL-4</text>
<line x1="237.0" y1="244.0" x2="237.0" y2="402.0" stroke="#2a2a2a" stroke-width="1"/>
<text x="222.12" y="405.87" font-size="12.2" font-weight="bold" font-style="normal" fill="#161212" stroke="#161212" stroke-width="0.3" >0</text>
<line x1="231.0" y1="362.5" x2="237.0" y2="362.5" stroke="#2a2a2a" stroke-width="1"/>
<text x="215.35" y="366.87" font-size="12.2" font-weight="bold" font-style="normal" fill="#161212" stroke="#161212" stroke-width="0.3" >10</text>
<line x1="231.0" y1="322.5" x2="237.0" y2="322.5" stroke="#2a2a2a" stroke-width="1"/>
<text x="215.35" y="326.87" font-size="12.2" font-weight="bold" font-style="normal" fill="#161212" stroke="#161212" stroke-width="0.3" >20</text>
<line x1="231.0" y1="283.5" x2="237.0" y2="283.5" stroke="#2a2a2a" stroke-width="1"/>
<text x="215.35" y="287.87" font-size="12.2" font-weight="bold" font-style="normal" fill="#161212" stroke="#161212" stroke-width="0.3" >30</text>
<line x1="231.0" y1="244.5" x2="237.0" y2="244.5" stroke="#2a2a2a" stroke-width="1"/>
<text x="215.35" y="248.87" font-size="12.2" font-weight="bold" font-style="normal" fill="#161212" stroke="#161212" stroke-width="0.3" >40</text>
<line x1="258" y1="246.5" x2="286.2" y2="246.5" stroke="#555555" stroke-width="1.15"/>
<line x1="290.4" y1="246.5" x2="320" y2="246.5" stroke="#555555" stroke-width="1.15"/>
<text x="265.79" y="249.63" font-size="15.97" fill="#141414" stroke="#141414" stroke-width="0.12">*</text>
<text x="272.89" y="249.63" font-size="15.97" fill="#141414" stroke="#141414" stroke-width="0.12">*</text>
<text x="298.89" y="249.73" font-size="15.97" fill="#141414" stroke="#141414" stroke-width="0.12">*</text>
<text x="305.89" y="249.73" font-size="15.97" fill="#141414" stroke="#141414" stroke-width="0.12">*</text>
<text transform="translate(208.40,391.53) rotate(-90)" x="0" y="0" font-size="11.2" font-weight="bold" font-style="normal" fill="#161212" stroke="#161212" stroke-width="0.3">relative mRNA expression</text>
<text x="362.30" y="225.00" font-size="21.5" font-weight="bold" font-style="normal" fill="#161212" stroke="#161212" stroke-width="0.6" >D</text>
<text x="453.46" y="221.80" font-size="13.2" font-weight="bold" font-style="italic" fill="#161212" stroke="#161212" stroke-width="0.3" >ARG1</text>
<line x1="439.0" y1="398.5" x2="439.0" y2="396.5" stroke="#262626" stroke-width="1"/>
<line x1="434.0" y1="396.5" x2="443.9" y2="396.5" stroke="#262626" stroke-width="1"/>
<line x1="470.5" y1="388.5" x2="470.5" y2="383.5" stroke="#262626" stroke-width="1"/>
<line x1="465.4" y1="383.5" x2="475.9" y2="383.5" stroke="#262626" stroke-width="1"/>
<line x1="502.5" y1="299.5" x2="502.5" y2="285.0" stroke="#262626" stroke-width="1"/>
<line x1="497.4" y1="285.0" x2="508.0" y2="285.0" stroke="#262626" stroke-width="1"/>
<line x1="411.1" y1="401.5" x2="525.2" y2="401.5" stroke="#2a2a2a" stroke-width="1"/>
<rect x="428.5" y="398.5" width="21.0" height="3.0" fill="#666666" stroke="#1c1c1c" stroke-width="1"/>
<line x1="439.0" y1="401.5" x2="439.0" y2="407.0" stroke="#2a2a2a" stroke-width="1"/>
<text x="427.48" y="419.00" font-size="11.1" font-weight="bold" font-style="normal" fill="#161212" stroke="#161212" stroke-width="0.3" >PBS</text>
<rect x="460.5" y="388.5" width="21.0" height="13.0" fill="#c00000" stroke="#1c1c1c" stroke-width="1"/>
<line x1="470.5" y1="401.5" x2="470.5" y2="407.0" stroke="#2a2a2a" stroke-width="1"/>
<text x="456.79" y="419.00" font-size="11.1" font-weight="bold" font-style="normal" fill="#161212" stroke="#161212" stroke-width="0.3" >IFN-γ</text>
<rect x="492.5" y="299.5" width="21.0" height="102.0" fill="#0000c4" stroke="#1c1c1c" stroke-width="1"/>
<line x1="502.5" y1="401.5" x2="502.5" y2="407.0" stroke="#2a2a2a" stroke-width="1"/>
<text x="492.42" y="419.00" font-size="11.1" font-weight="bold" font-style="normal" fill="#161212" stroke="#161212" stroke-width="0.3" >IL-4</text>
<line x1="417.5" y1="242.0" x2="417.5" y2="402.0" stroke="#2a2a2a" stroke-width="1"/>
<text x="402.72" y="405.87" font-size="12.2" font-weight="bold" font-style="normal" fill="#161212" stroke="#161212" stroke-width="0.3" >0</text>
<line x1="411.1" y1="361.5" x2="417.5" y2="361.5" stroke="#2a2a2a" stroke-width="1"/>
<text x="395.95" y="365.87" font-size="12.2" font-weight="bold" font-style="normal" fill="#161212" stroke="#161212" stroke-width="0.3" >10</text>
<line x1="411.1" y1="321.5" x2="417.5" y2="321.5" stroke="#2a2a2a" stroke-width="1"/>
<text x="395.95" y="325.87" font-size="12.2" font-weight="bold" font-style="normal" fill="#161212" stroke="#161212" stroke-width="0.3" >20</text>
<line x1="411.1" y1="282.5" x2="417.5" y2="282.5" stroke="#2a2a2a" stroke-width="1"/>
<text x="395.95" y="286.87" font-size="12.2" font-weight="bold" font-style="normal" fill="#161212" stroke="#161212" stroke-width="0.3" >30</text>
<line x1="411.1" y1="242.5" x2="417.5" y2="242.5" stroke="#2a2a2a" stroke-width="1"/>
<text x="395.95" y="246.87" font-size="12.2" font-weight="bold" font-style="normal" fill="#161212" stroke="#161212" stroke-width="0.3" >40</text>
<line x1="439.1" y1="257.5" x2="503" y2="257.5" stroke="#555555" stroke-width="1.15"/>
<line x1="472.2" y1="276.5" x2="503.4" y2="276.5" stroke="#555555" stroke-width="1.15"/>
<text x="460.58" y="258.47" font-size="15.48" fill="#141414" stroke="#141414" stroke-width="0.12">*</text>
<text x="467.68" y="258.47" font-size="15.48" fill="#141414" stroke="#141414" stroke-width="0.12">*</text>
<text x="474.98" y="258.47" font-size="15.48" fill="#141414" stroke="#141414" stroke-width="0.12">*</text>
<text x="478.08" y="278.77" font-size="15.48" fill="#141414" stroke="#141414" stroke-width="0.12">*</text>
<text x="485.28" y="278.77" font-size="15.48" fill="#141414" stroke="#141414" stroke-width="0.12">*</text>
<text x="492.48" y="278.77" font-size="15.48" fill="#141414" stroke="#141414" stroke-width="0.12">*</text>
<text transform="translate(388.60,391.84) rotate(-90)" x="0" y="0" font-size="11.35" font-weight="bold" font-style="normal" fill="#161212" stroke="#161212" stroke-width="0.3">relative mRNA expression</text>
<text x="607.96" y="221.70" font-size="13.4" font-weight="bold" font-style="italic" fill="#161212" stroke="#161212" stroke-width="0.3" >TGF-β</text>
<line x1="595.5" y1="362.5" x2="595.5" y2="334.5" stroke="#262626" stroke-width="1"/>
<line x1="590.2" y1="334.5" x2="600.8" y2="334.5" stroke="#262626" stroke-width="1"/>
<line x1="627.5" y1="331.5" x2="627.5" y2="320.5" stroke="#262626" stroke-width="1"/>
<line x1="622.2" y1="320.5" x2="632.7" y2="320.5" stroke="#262626" stroke-width="1"/>
<line x1="659.5" y1="276.5" x2="659.5" y2="257.5" stroke="#262626" stroke-width="1"/>
<line x1="654.0" y1="257.5" x2="664.8" y2="257.5" stroke="#262626" stroke-width="1"/>
<line x1="568.1" y1="400.5" x2="680.7" y2="400.5" stroke="#2a2a2a" stroke-width="1"/>
<rect x="585.5" y="362.5" width="20.0" height="38.0" fill="#666666" stroke="#1c1c1c" stroke-width="1"/>
<line x1="595.5" y1="400.5" x2="595.5" y2="407.0" stroke="#2a2a2a" stroke-width="1"/>
<text x="584.08" y="419.00" font-size="11.1" font-weight="bold" font-style="normal" fill="#161212" stroke="#161212" stroke-width="0.3" >PBS</text>
<rect x="617.5" y="331.5" width="20.0" height="69.0" fill="#c00000" stroke="#1c1c1c" stroke-width="1"/>
<line x1="627.5" y1="400.5" x2="627.5" y2="407.0" stroke="#2a2a2a" stroke-width="1"/>
<text x="613.49" y="419.00" font-size="11.1" font-weight="bold" font-style="normal" fill="#161212" stroke="#161212" stroke-width="0.3" >IFN-γ</text>
<rect x="648.5" y="276.5" width="21.0" height="124.0" fill="#0000c4" stroke="#1c1c1c" stroke-width="1"/>
<line x1="659.5" y1="400.5" x2="659.5" y2="407.0" stroke="#2a2a2a" stroke-width="1"/>
<text x="649.12" y="419.00" font-size="11.1" font-weight="bold" font-style="normal" fill="#161212" stroke="#161212" stroke-width="0.3" >IL-4</text>
<line x1="574.5" y1="242.0" x2="574.5" y2="401.0" stroke="#2a2a2a" stroke-width="1"/>
<text x="559.92" y="404.87" font-size="12.2" font-weight="bold" font-style="normal" fill="#161212" stroke="#161212" stroke-width="0.3" >0</text>
<line x1="568.1" y1="347.5" x2="574.5" y2="347.5" stroke="#2a2a2a" stroke-width="1"/>
<text x="559.92" y="351.87" font-size="12.2" font-weight="bold" font-style="normal" fill="#161212" stroke="#161212" stroke-width="0.3" >2</text>
<line x1="568.1" y1="295.5" x2="574.5" y2="295.5" stroke="#2a2a2a" stroke-width="1"/>
<text x="559.49" y="299.87" font-size="12.2" font-weight="bold" font-style="normal" fill="#161212" stroke="#161212" stroke-width="0.3" >4</text>
<line x1="568.1" y1="242.5" x2="574.5" y2="242.5" stroke="#2a2a2a" stroke-width="1"/>
<text x="559.86" y="246.87" font-size="12.2" font-weight="bold" font-style="normal" fill="#161212" stroke="#161212" stroke-width="0.3" >6</text>
<line x1="595.2" y1="238.5" x2="660.7" y2="238.5" stroke="#555555" stroke-width="1.15"/>
<line x1="630.2" y1="254.5" x2="659.6" y2="254.5" stroke="#555555" stroke-width="1.15"/>
<text x="621.08" y="240.07" font-size="15.48" fill="#141414" stroke="#141414" stroke-width="0.12">*</text>
<text x="628.48" y="240.07" font-size="15.48" fill="#141414" stroke="#141414" stroke-width="0.12">*</text>
<text x="642.08" y="255.47" font-size="15.48" fill="#141414" stroke="#141414" stroke-width="0.12">*</text>
<text transform="translate(552.20,391.03) rotate(-90)" x="0" y="0" font-size="11.3" font-weight="bold" font-style="normal" fill="#161212" stroke="#161212" stroke-width="0.3">relative mRNA expression</text>
</svg></body></html>
